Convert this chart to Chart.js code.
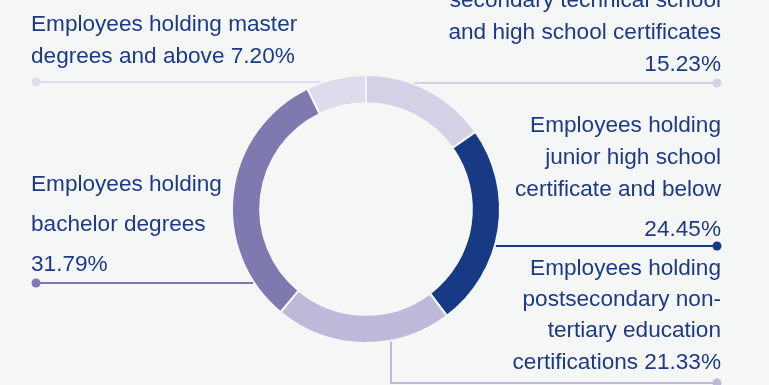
<!DOCTYPE html>
<html>
<head>
<meta charset="utf-8">
<script src="https://cdn.jsdelivr.net/npm/chart.js@4"></script>
<style>
  html, body { margin: 0; padding: 0; background: #f5f7f7; overflow: hidden; }
  canvas { display: block; }
</style>
</head>
<body>
<canvas id="eduChart" width="769" height="385"></canvas>
<script>
'use strict';

// education level of employees, share in %
let categories = [
  'Employees holding postsecondary technical school, secondary technical school and high school certificates',
  'Employees holding junior high school certificate and below',
  'Employees holding postsecondary non-tertiary education certifications',
  'Employees holding bachelor degrees',
  'Employees holding master degrees and above'
];
let shares = [15.23, 24.45, 21.33, 31.79, 7.20];
let sliceColors = ['#d4d1e6', '#183a85', '#bdb9d8', '#7e79ae', '#dddbec'];

function pct(i) {
  return shares[i].toFixed(2) + '%';
}

// wrapped label text, one array per category
let labelLines = [
  ['Employees holding post-', 'secondary technical school', 'and high school certificates', pct(0)],
  ['Employees holding', 'junior high school', 'certificate and below', pct(1)],
  ['Employees holding', 'postsecondary non-', 'tertiary education', 'certifications ' + pct(2)],
  ['Employees holding', 'bachelor degrees', pct(3)],
  ['Employees holding master', 'degrees and above ' + pct(4)]
];

let textColor = '#1d3a85';
let bgColor = '#f5f7f7';

// where each label sits (baselines of text lines, y of leader line, side)
let labelLayout = [
  { side: 'right', baselines: [-25, 7, 39, 71], lineY: 83 },
  { side: 'right', baselines: [132, 164, 196, 236], lineY: 246 },
  { side: 'right', baselines: [275, 306, 337, 369], lineY: 383, dropX: 391 },
  { side: 'left', baselines: [191, 231, 271], lineY: 283 },
  { side: 'left', baselines: [31, 63], lineY: 82 }
];

const labelPlugin = {
  id: 'sideLabels',
  afterDraw(chart) {
    const ctx = chart.ctx;
    const meta = chart.getDatasetMeta(0);
    const leftX = 31;
    const rightX = 721;
    const dotLeft = 36;
    const dotRight = 717;
    ctx.save();
    ctx.font = '22.6px "Liberation Sans", Arial, sans-serif';
    ctx.textBaseline = 'alphabetic';
    for (let i = 0; i < meta.data.length; i++) {
      const arc = meta.data[i];
      const lay = labelLayout[i];
      const cx = arc.x;
      const cy = arc.y;
      const r = arc.outerRadius + 1;
      ctx.strokeStyle = sliceColors[i];
      ctx.fillStyle = sliceColors[i];
      ctx.lineWidth = 2;
      ctx.beginPath();
      if (lay.dropX) {
        const dy = Math.sqrt(r * r - (lay.dropX - cx) * (lay.dropX - cx));
        ctx.moveTo(lay.dropX, cy + dy);
        ctx.lineTo(lay.dropX, lay.lineY);
        ctx.lineTo(dotRight, lay.lineY);
      } else {
        const dx = Math.sqrt(Math.max(r * r - (lay.lineY - cy) * (lay.lineY - cy), 0));
        if (lay.side === 'right') {
          ctx.moveTo(cx + dx, lay.lineY);
          ctx.lineTo(dotRight, lay.lineY);
        } else {
          ctx.moveTo(cx - dx, lay.lineY);
          ctx.lineTo(dotLeft, lay.lineY);
        }
      }
      ctx.stroke();
      ctx.beginPath();
      ctx.arc(lay.side === 'right' ? dotRight : dotLeft, lay.lineY, 4.5, 0, Math.PI * 2);
      ctx.fill();

      ctx.fillStyle = textColor;
      ctx.textAlign = lay.side === 'right' ? 'right' : 'left';
      const tx = lay.side === 'right' ? rightX : leftX;
      labelLines[i].forEach(function (line, j) {
        ctx.fillText(line, tx, lay.baselines[j]);
      });
    }
    ctx.restore();
  }
};

const data = {
  labels: categories,
  datasets: [{
    data: shares,
    backgroundColor: sliceColors,
    borderColor: bgColor,
    borderWidth: 2
  }]
};

const config = {
  type: 'doughnut',
  data: data,
  options: {
    responsive: false,
    animation: false,
    cutout: '79%',
    layout: {
      padding: { top: 74, bottom: 41, left: 231, right: 268 }
    },
    plugins: {
      legend: { display: false },
      tooltip: { enabled: false }
    }
  },
  plugins: [labelPlugin]
};

const eduChart = new Chart(document.getElementById('eduChart'), config);
</script>
</body>
</html>
